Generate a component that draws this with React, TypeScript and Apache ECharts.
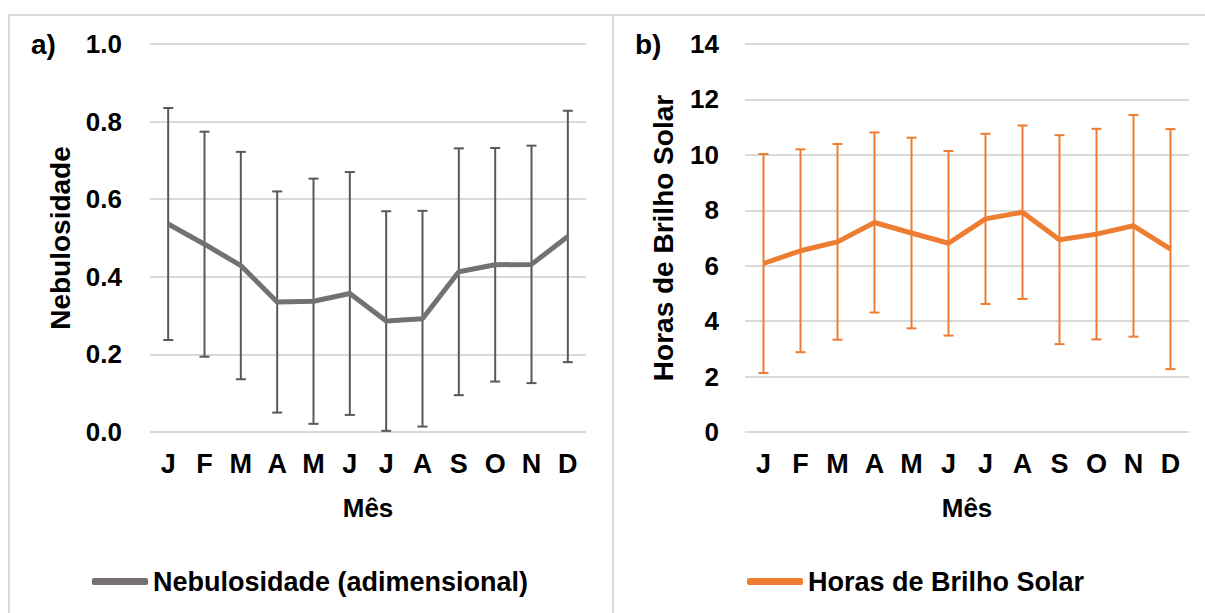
import React, { useEffect, useRef } from "react";
import * as echarts from "echarts";

// Month initials (Jan..Dec)
const months = ["J", "F", "M", "A", "M", "J", "J", "A", "S", "O", "N", "D"];

// Cloudiness (dimensionless): monthly mean and standard deviation
const cloudMean = [0.536, 0.484, 0.429, 0.335, 0.337, 0.357, 0.286, 0.292, 0.413, 0.431, 0.432, 0.504];
const cloudSd = [0.299, 0.29, 0.293, 0.285, 0.316, 0.313, 0.283, 0.278, 0.318, 0.301, 0.306, 0.324];

// Sunshine hours: monthly mean and standard deviation
const sunMean = [6.08, 6.54, 6.86, 7.56, 7.18, 6.81, 7.69, 7.93, 6.94, 7.14, 7.44, 6.6];
const sunSd = [3.95, 3.66, 3.53, 3.25, 3.44, 3.33, 3.07, 3.13, 3.77, 3.8, 4.0, 4.33];

const cloudName = "Nebulosidade (adimensional)";
const sunName = "Horas de Brilho Solar";

const FONT = '"Liberation Sans", Arial, sans-serif';
const GRID_COLOR = "#d9d9d9";
const GRAY = "#767171";
const BAR_GRAY = "#595959";
const ORANGE = "#ED7D31";

const errorData = (mean: number[], sd: number[]) =>
  mean.map((m, i) => [i, m - sd[i], m + sd[i]]);

const errorBarRenderer = (color: string) => (params: any, api: any) => {
  const i = api.value(0);
  const lo = api.coord([i, api.value(1)]);
  const hi = api.coord([i, api.value(2)]);
  const half = 5;
  const style = { stroke: color, lineWidth: 2 };
  return {
    type: "group",
    children: [
      { type: "line", shape: { x1: lo[0], y1: lo[1], x2: hi[0], y2: hi[1] }, style },
      { type: "line", shape: { x1: hi[0] - half, y1: hi[1], x2: hi[0] + half, y2: hi[1] }, style },
      { type: "line", shape: { x1: lo[0] - half, y1: lo[1], x2: lo[0] + half, y2: lo[1] }, style },
    ],
  };
};

const xAxisFor = (gridIndex: number) => ({
  type: "category",
  gridIndex,
  data: months,
  axisLine: { show: false },
  axisTick: { show: false },
  axisLabel: { fontFamily: FONT, fontWeight: "bold", fontSize: 27, color: "#000", margin: 18 },
  name: "Mês",
  nameLocation: "middle",
  nameGap: 63,
  nameTextStyle: { fontFamily: FONT, fontWeight: "bold", fontSize: 26, color: "#000" },
});

const yAxisFor = (gridIndex: number, max: number, interval: number, name: string, gap: number, margin: number, fmt: (v: number) => string) => ({
  type: "value",
  gridIndex,
  min: 0,
  max,
  interval,
  axisLine: { show: false },
  axisTick: { show: false },
  splitLine: { show: true, lineStyle: { color: GRID_COLOR, width: 2 } },
  axisLabel: { fontFamily: FONT, fontWeight: "bold", fontSize: 26, color: "#000", margin, formatter: fmt },
  name,
  nameLocation: "middle",
  nameGap: gap,
  nameTextStyle: { fontFamily: FONT, fontWeight: "bold", fontSize: 28, color: "#000" },
});

export default function App() {
  const ref = useRef<HTMLDivElement>(null);

  useEffect(() => {
    if (!ref.current) return;
    const chart = echarts.init(ref.current, null, { renderer: "svg" });
    chart.setOption({
      animation: false,
      backgroundColor: "#fff",
      textStyle: { fontFamily: FONT },
      grid: [
        { left: 150, top: 44, width: 436, height: 388 },
        { left: 745, top: 44, width: 444, height: 388 },
      ],
      xAxis: [xAxisFor(0), xAxisFor(1)],
      yAxis: [
        yAxisFor(0, 1, 0.2, "Nebulosidade", 76, 28, (v: number) => v.toFixed(1)),
        yAxisFor(1, 14, 2, "Horas de Brilho Solar", 68, 26, (v: number) => String(v)),
      ],
      legend: [
        {
          left: 87,
          top: 563,
          icon: "roundRect",
          itemWidth: 56,
          itemHeight: 7,
          data: [cloudName],
          textStyle: { fontFamily: FONT, fontWeight: "bold", fontSize: 27, color: "#000" },
        },
        {
          left: 742,
          top: 563,
          icon: "roundRect",
          itemWidth: 56,
          itemHeight: 7,
          data: [sunName],
          textStyle: { fontFamily: FONT, fontWeight: "bold", fontSize: 27, color: "#000" },
        },
      ],
      graphic: [
        { type: "rect", shape: { x: 8, y: 14, width: 1197, height: 2 }, style: { fill: GRID_COLOR }, silent: true },
        { type: "rect", shape: { x: 8, y: 14, width: 2, height: 600 }, style: { fill: GRID_COLOR }, silent: true },
        { type: "rect", shape: { x: 612, y: 14, width: 2, height: 600 }, style: { fill: GRID_COLOR }, silent: true },
        {
          type: "text",
          left: 31,
          top: 30,
          style: { text: "a)", fontFamily: FONT, fontWeight: "bold", fontSize: 28, fill: "#000" },
        },
        {
          type: "text",
          left: 635,
          top: 30,
          style: { text: "b)", fontFamily: FONT, fontWeight: "bold", fontSize: 28, fill: "#000" },
        },
      ],
      series: [
        {
          type: "custom",
          xAxisIndex: 0,
          yAxisIndex: 0,
          data: errorData(cloudMean, cloudSd),
          encode: { x: 0, y: [1, 2] },
          renderItem: errorBarRenderer(BAR_GRAY),
          z: 2,
        },
        {
          name: cloudName,
          type: "line",
          xAxisIndex: 0,
          yAxisIndex: 0,
          data: cloudMean,
          symbol: "none",
          color: GRAY,
          lineStyle: { width: 5, color: GRAY },
          z: 3,
        },
        {
          type: "custom",
          xAxisIndex: 1,
          yAxisIndex: 1,
          data: errorData(sunMean, sunSd),
          encode: { x: 0, y: [1, 2] },
          renderItem: errorBarRenderer(ORANGE),
          z: 2,
        },
        {
          name: sunName,
          type: "line",
          xAxisIndex: 1,
          yAxisIndex: 1,
          data: sunMean,
          symbol: "none",
          color: ORANGE,
          lineStyle: { width: 5, color: ORANGE },
          z: 3,
        },
      ],
    });
    return () => chart.dispose();
  }, []);

  return (
    <div
      ref={ref}
      style={{ position: "absolute", left: 0, top: 0, width: 1205, height: 613 }}
    />
  );
}
